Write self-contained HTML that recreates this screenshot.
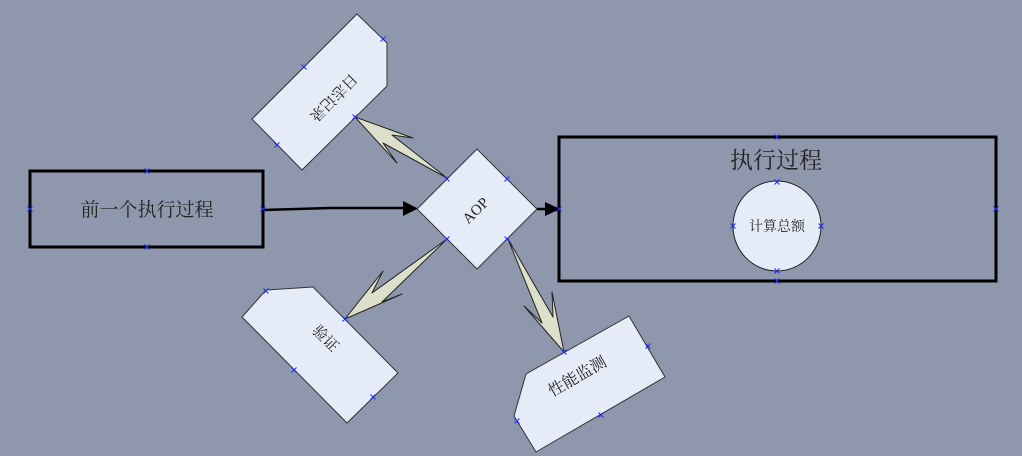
<!DOCTYPE html>
<html><head><meta charset="utf-8"><style>
html,body{margin:0;padding:0;background:#8e97ab;width:1022px;height:456px;overflow:hidden}
svg{display:block}
text{font-family:"Liberation Serif","Noto Serif CJK SC","Noto Sans CJK SC",serif;fill:#222}
</style></head><body>
<svg width="1022" height="456" viewBox="0 0 1022 456" xmlns="http://www.w3.org/2000/svg">
<defs>
<g id="m"><path d="M-2.5,-2.5L2.5,2.5M-2.5,2.5L2.5,-2.5" stroke="#1a2cff" stroke-width="1"/></g>
</defs>
<!-- left rect -->
<rect x="30" y="171" width="233" height="76" fill="none" stroke="#000" stroke-width="3"/>
<text x="147" y="216" font-size="19" text-anchor="middle">前一个执行过程</text>
<!-- arrow to AOP -->
<path d="M263,210 L330,208 L405,208" stroke="#000" stroke-width="2.5" fill="none"/>
<polygon points="403,201 418,208.5 403,216" fill="#000"/>
<!-- AOP -> right -->
<path d="M537,209 L548,209" stroke="#000" stroke-width="2.5"/>
<polygon points="545,202 560,209 545,216" fill="#000"/>
<!-- right rect -->
<rect x="559" y="137" width="437" height="144" fill="none" stroke="#000" stroke-width="3"/>
<text x="776" y="168" font-size="23" text-anchor="middle">执行过程</text>
<ellipse cx="777" cy="226" rx="44" ry="45" fill="#e6ecf7" stroke="#222" stroke-width="1"/>
<text x="777" y="231" font-size="14" text-anchor="middle">计算总额</text>
<!-- AOP diamond -->
<polygon points="477,149 537,209 477,269 417,209" fill="#e6ecf7" stroke="#333" stroke-width="1"/>
<text x="0" y="0" font-size="15" text-anchor="middle" transform="translate(479,214) rotate(-45)">AOP</text>
<!-- top shape -->
<polygon points="357,14 387,43 387,86 302,170 252,119" fill="#e6ecf7" stroke="#333" stroke-width="1"/>
<text x="0" y="0" font-size="15" text-anchor="middle" transform="translate(330,94) rotate(135)">日志记录</text>
<!-- bottom-left shape -->
<polygon points="266,290 313,287 398,373 347,423 242,317" fill="#e6ecf7" stroke="#333" stroke-width="1"/>
<text x="0" y="0" font-size="15" text-anchor="middle" transform="translate(322,342) rotate(45)">验证</text>
<!-- bottom-right shape -->
<polygon points="629,316 665,377 536,452 514,416 526,374" fill="#e6ecf7" stroke="#333" stroke-width="1"/>
<text x="0" y="0" font-size="16" text-anchor="middle" transform="translate(580,381) rotate(-30)">性能监测</text>
<!-- fat arrows -->
<polygon points="355,117 413,138 392,135 447,178 383,143 397,163" fill="#dcdfc9" stroke="#222" stroke-width="1" stroke-linejoin="round"/>
<polygon points="345,319 402,294 382,302 447,239 372,293 383,271" fill="#dcdfc9" stroke="#222" stroke-width="1" stroke-linejoin="round"/>
<polygon points="564,352 524,306 542,323 508,239 553,317 552,292" fill="#dcdfc9" stroke="#222" stroke-width="1" stroke-linejoin="round"/>
<!-- markers -->
<use href="#m" x="147" y="171"/><use href="#m" x="147" y="247"/><use href="#m" x="30" y="209"/><use href="#m" x="263" y="209"/>
<use href="#m" x="777" y="137"/><use href="#m" x="777" y="281"/><use href="#m" x="559" y="209"/><use href="#m" x="996" y="209"/>
<use href="#m" x="777" y="182"/><use href="#m" x="777" y="271"/><use href="#m" x="733" y="226"/><use href="#m" x="821" y="226"/>
<use href="#m" x="447" y="179"/><use href="#m" x="507" y="179"/><use href="#m" x="447" y="239"/><use href="#m" x="507" y="239"/>
<use href="#m" x="383" y="39"/><use href="#m" x="304" y="67"/><use href="#m" x="355" y="117"/><use href="#m" x="277" y="145"/>
<use href="#m" x="266" y="291"/><use href="#m" x="345" y="319"/><use href="#m" x="294" y="370"/><use href="#m" x="373" y="397"/>
<use href="#m" x="564" y="352"/><use href="#m" x="648" y="346"/><use href="#m" x="517" y="421"/><use href="#m" x="601" y="415"/>
</svg>
</body></html>
